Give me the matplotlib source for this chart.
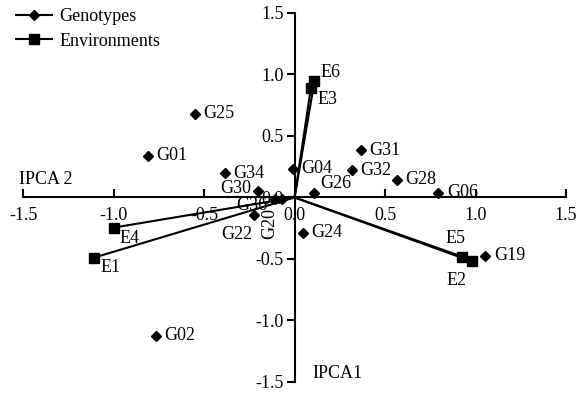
import numpy as np
import matplotlib.pyplot as plt
from matplotlib.lines import Line2D

plt.rcParams['font.family'] = ['Liberation Serif', 'DejaVu Serif']
plt.rcParams['axes.unicode_minus'] = False
plt.rcParams['font.size'] = 13

# genotype scores (IPCA2, IPCA1)
gen_names = ['G25', 'G01', 'G34', 'G04', 'G31', 'G32', 'G28', 'G06', 'G26',
             'G30', 'G36', 'G20', 'G22', 'G24', 'G19', 'G02']
gen_x = [-0.55, -0.81, -0.385, -0.01, 0.365, 0.315, 0.565, 0.795, 0.11,
         -0.2, -0.11, -0.07, -0.225, 0.045, 1.055, -0.765]
gen_y = [0.68, 0.34, 0.195, 0.235, 0.385, 0.22, 0.145, 0.04, 0.035,
         0.05, -0.01, -0.01, -0.145, -0.285, -0.475, -1.125]

# environment scores
env_names = ['E6', 'E3', 'E5', 'E2', 'E4', 'E1']
env_x = [0.11, 0.09, 0.925, 0.98, -1.0, -1.11]
env_y = [0.945, 0.89, -0.48, -0.52, -0.245, -0.49]

# label offsets (points) and alignment
gen_off = {'G26': (4, 7, 'left', 0), 'G30': (-5, 2, 'right', 0),
           'G36': (-5, -5, 'right', 0), 'G22': (-1, -14, 'right', 0),
           'G20': (-9, -18, 'center', 90)}
env_off = {'E6': (4, 6, 'left'), 'E3': (5, -8, 'left'), 'E5': (-5, 13, 'center'),
           'E2': (-11, -14, 'center'), 'E4': (4, -8, 'left'), 'E1': (5, -7, 'left')}

fig = plt.figure(figsize=(5.77, 3.93), dpi=100)
ax = fig.add_axes([0.04, 0.028, 0.941, 0.939])

for x, y in zip(env_x, env_y):
    ax.plot([0, x], [0, y], color='black', lw=1.5, zorder=2)
ax.plot(env_x, env_y, 's', color='black', ms=7.5, zorder=3)
ax.plot(gen_x, gen_y, 'D', color='black', ms=5.5, zorder=3)

for n, x, y in zip(gen_names, gen_x, gen_y):
    dx, dy, ha, rot = gen_off.get(n, (6, 0, 'left', 0))
    ax.annotate(n, (x, y), xytext=(dx, dy), textcoords='offset points',
                ha=ha, va='center', rotation=rot)
for n, x, y in zip(env_names, env_x, env_y):
    dx, dy, ha = env_off[n]
    ax.annotate(n, (x, y), xytext=(dx, dy), textcoords='offset points',
                ha=ha, va='center')

ax.set_xlim(-1.5, 1.5)
ax.set_ylim(-1.5, 1.5)
ticks = [-1.5, -1.0, -0.5, 0.0, 0.5, 1.0, 1.5]
ax.set_xticks(ticks)
ax.set_yticks(ticks)
ax.set_xticklabels(['%.1f' % t for t in ticks])
ax.set_yticklabels(['%.1f' % t for t in ticks])
ax.spines['left'].set_position(('data', 0))
ax.spines['bottom'].set_position(('data', 0))
ax.spines['right'].set_visible(False)
ax.spines['top'].set_visible(False)
ax.spines['left'].set_linewidth(1.5)
ax.spines['bottom'].set_linewidth(1.5)
ax.tick_params(axis='x', direction='in', length=6, width=1.5, pad=7)
ax.tick_params(axis='y', direction='out', length=6, width=1.5, pad=2)
ax.patch.set_visible(False)

ax.text(-1.52, 0.08, 'IPCA 2', ha='left', va='bottom')
ax.text(0.1, -1.5, 'IPCA1', ha='left', va='bottom')

handles = [Line2D([], [], color='black', marker='D', ms=5.5, lw=1.5),
           Line2D([], [], color='black', marker='s', ms=7.5, lw=1.5)]
fig.legend(handles, ['Genotypes', 'Environments'], loc='upper left',
           bbox_to_anchor=(0.0, 1.02), frameon=False, handlelength=2.0,
           handletextpad=0.4, labelspacing=0.4, fontsize=13)

fig.savefig('out.png', dpi=100)
